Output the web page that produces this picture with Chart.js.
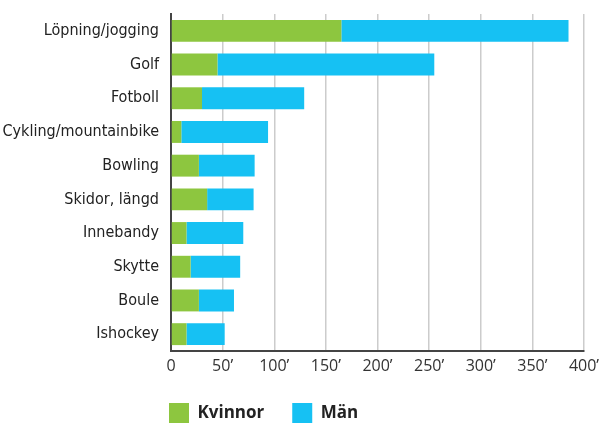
<!DOCTYPE html>
<html>
<head>
<meta charset="utf-8">
<script src="https://cdn.jsdelivr.net/npm/chart.js@4"></script>
<style>
  html, body { margin: 0; padding: 0; background: #fff; overflow: hidden; }
  canvas { display: block; }
</style>
</head>
<body>
<canvas id="chart" width="601" height="440"></canvas>
<script>
var sports = ['Löpning/jogging', 'Golf', 'Fotboll', 'Cykling/mountainbike', 'Bowling',
              'Skidor, längd', 'Innebandy', 'Skytte', 'Boule', 'Ishockey'];
var kvinnor = [165, 45, 30, 10, 27, 35, 15, 19, 27, 15];
var man = [220, 210, 99, 84, 54, 45, 55, 48, 34, 37];
var tickLabels = ['0', '50’', '100’', '150’', '200’', '250’', '300’', '350’', '400’'];

// legend sits under the axis, not at the page edge
var legendShift = {
    id: 'legendShift',
    afterLayout: function(chart) {
        chart.legend.left = 141;
    }
};

var ctx = document.getElementById('chart').getContext('2d');
var chart = new Chart(ctx, {
    type: 'bar',
    data: {
        labels: sports,
        datasets: [{
            label: 'Kvinnor',
            data: kvinnor,
            backgroundColor: '#8dc63f',
            borderWidth: 0
        }, {
            label: 'Män',
            data: man,
            backgroundColor: '#16c1f3',
            borderWidth: 0
        }]
    },
    options: {
        indexAxis: 'y',
        responsive: false,
        animation: false,
        barPercentage: 0.65,
        categoryPercentage: 1,
        layout: { padding: { top: 14, right: 17, left: 0, bottom: 7 } },
        plugins: {
            tooltip: { enabled: false },
            legend: {
                position: 'bottom',
                align: 'start',
                labels: {
                    boxWidth: 20,
                    boxHeight: 20,
                    padding: 28,
                    color: '#222',
                    font: { family: 'Open Sans', size: 17, weight: 'bold' }
                }
            }
        },
        scales: {
            x: {
                stacked: true,
                min: 0,
                max: 400,
                afterFit: function(scale) {
                    scale.height = 24;
                    scale.paddingLeft = 0;
                    scale.paddingRight = 0;
                },
                ticks: {
                    stepSize: 50,
                    padding: 6,
                    color: '#333',
                    font: { family: 'Open Sans', size: 16 },
                    callback: function(v, i) { return tickLabels[i]; }
                },
                grid: { color: '#cccccc', lineWidth: 1.5, drawTicks: false },
                border: { color: '#444', width: 2 }
            },
            y: {
                stacked: true,
                afterFit: function(scale) {
                    scale.width = 171;
                    scale.paddingTop = 0;
                    scale.paddingBottom = 0;
                },
                ticks: {
                    padding: 12,
                    color: '#222',
                    font: { family: "'DejaVu Sans Condensed', 'Liberation Sans'", size: 16 }
                },
                grid: { display: false, drawTicks: false },
                border: { color: '#444', width: 2 }
            }
        }
    },
    plugins: [legendShift]
});
</script>
</body>
</html>
